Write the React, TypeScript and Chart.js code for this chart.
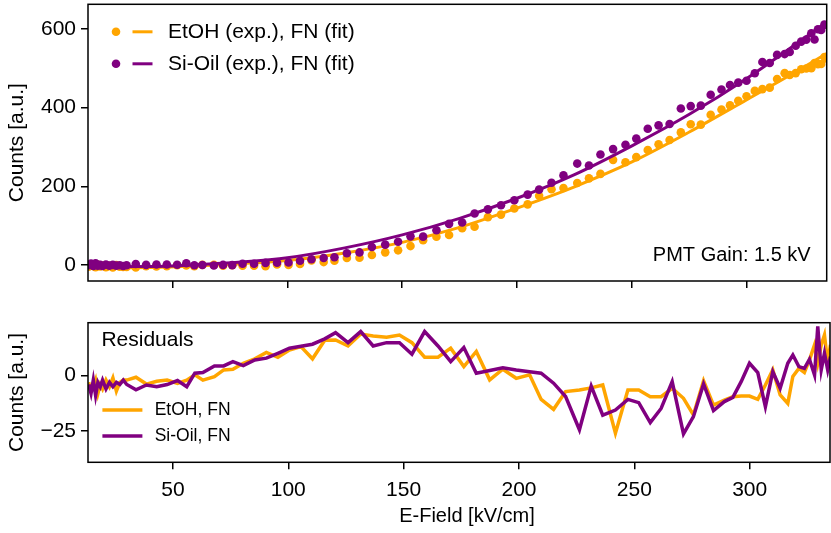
import React, { useEffect, useRef } from 'react';
import { Chart, registerables } from 'chart.js';

Chart.register(...registerables);

const FONT = "'Liberation Sans', Arial, Helvetica, sans-serif";
const ORANGE = '#FFA500';
const PURPLE = '#800080';

// E-field values of the measured points [kV/cm]
const efield = [13.5, 14.5, 15.5, 16.5, 17.5, 18.5, 19.5, 21, 22.5, 24, 25.5, 27, 28.5, 30,
  34, 38.5, 43, 47.5, 52, 56, 59.5, 63,
  68, 72, 76, 80.5, 85.5, 90.5, 95.5, 100.5, 105.5, 110.5,
  115.8, 120.5, 125.9, 131.4, 136.8, 142.6, 148.2, 153.6, 159.1, 164.9,
  170.4, 176.1, 181.5, 187.3, 193, 198.8, 204.6, 209.6, 215, 220.2,
  226.2, 231.3, 236.3, 241.8, 247.2, 251.9, 256.9, 261.6, 266.4, 271.3,
  275.6, 280, 284.3, 289, 292.7, 296.3, 299.9, 303.5, 306.8, 310,
  313.2, 316.5, 318.7, 321.3, 323.7, 325.9, 328.1, 329.5, 331, 332.4,
  333.8, 335];

// measured counts
const etohExp = [-4, 0, -2, -5, 1, -2.8, -0.8, -4.7, -1.6, -5.6, 0.5, -3.5, -4.4, -4.4,
  -5.5, -2.3, -2.9, -2.5, -0.1, -0.8, -2.5, 0.9,
  0.9, -1, -0.1, -1.4, -1.4, -2.3, 1.9, 0.8, 3.1, 12.4,
  8, 11.5, 18.6, 19.1, 25.8, 32.7, 37.8, 48.6, 63.5, 72.3,
  76.6, 94.1, 97.8, 122, 128.4, 143.8, 154.5, 176.4, 192.6, 195.8,
  208.5, 220.4, 231.7, 267.3, 261.4, 274.3, 292.5, 306.8, 317.6, 337,
  357.7, 356.7, 381.8, 394.9, 405.6, 417.1, 428.9, 442.3, 446.8, 450.6,
  472.5, 487.3, 482.5, 487.4, 497.3, 499.1, 500, 513.2, 510.1, 510.5,
  528.2, 524.1];

const siExp = [0, 4, -2, 5, -1, 1, -2, 2, -1, 1, -1, 0, -2, 0,
  3, 1, 2, 2, 1.4, 5, -0.2, 0.6,
  -0.6, 0.8, 0.3, 3.8, 3.9, 5.9, 6.4, 7.1, 11.2, 15.3,
  18.2, 20.1, 30.3, 32.5, 46.2, 52.3, 59.7, 73.3, 72.5, 88.7,
  105, 108.5, 131.2, 141.8, 152.1, 165, 179.2, 191.9, 209.4, 227.9,
  257.9, 253.1, 280.8, 294.6, 305.5, 321.3, 346.3, 354.9, 358.2, 397.5,
  403.7, 404.9, 432.7, 445.7, 457.2, 463.2, 468, 486.9, 515.7, 513,
  533.6, 535.7, 541, 556.8, 567.4, 572.4, 588.7, 572.7, 598.6, 597,
  610.4, 609.4];

// FN fit curves (read at knots)
const fitE = [13, 40, 60, 80, 100, 125, 150, 175, 200, 225, 250, 275, 300, 325, 335];
const etohFit = [-7, -6, -2, 4, 12, 31, 58, 96, 145, 199, 262, 338, 420, 503, 538];
const siFit = [-4, -3.5, 1, 8, 19, 44, 77, 119, 170, 230, 303, 383, 474, 576, 618];

// residuals
const etohRes = [-3, -7, -5, -2, -8, -4, -6, -2, -5, -1, -7, -3, -2, -2,
  -0.7, -3.8, -2.5, -2, -3.5, -2, 0.4, -2,
  -0.5, 2.6, 2.9, 5.6, 7.6, 10.5, 8.3, 11.6, 13.1, 7.6,
  16, 16.1, 13.4, 18.8, 17.9, 17.3, 18.3, 14.9, 8.3, 8.3,
  12.4, 4.1, 10.9, -1.9, 2.9, -1.2, 0.4, -10.7, -15.2, -7.2,
  -6.5, -5.5, -4.2, -26, -6.5, -6.5, -9.5, -9.5, -5.7, -10.2,
  -17.7, -2.3, -13.3, -11, -9.5, -9.2, -9.2, -10.7, -4.2, 2.6,
  -8.7, -12.5, -0.4, 3.3, 1.4, 7.1, 13.9, 5.6, 13.9, 18.4,
  5.6, 13.9];

const siRes = [-4, -8, -2, -9, -3, -5, -2, -6, -3, -5, -3, -4, -2, -4,
  -6.4, -4.2, -5, -4, -2.2, -5, 1.1, 1.4,
  4.4, 4.4, 6.3, 4.5, 7.1, 7.9, 10.1, 12.4, 13.3, 14.2,
  16.6, 19.4, 14.9, 19.9, 13.4, 14.9, 14.9, 9.7, 19.9, 13.4,
  6.3, 12.7, 1.1, 2.3, 3.6, 2.6, 1.8, 1.1, -3.4, -9.4,
  -24.4, -4.7, -17.8, -15.5, -10.7, -12.2, -21.2, -14.8, -2.7, -26.3,
  -18.5, -3.7, -15.8, -11.7, -9.8, -2.7, 5.6, 1.4, -14, 1.8,
  -5.7, 5.6, 9.3, 4.1, 3.3, 7.4, 0.3, 22.2, 2.6, 10.1,
  2.6, 8.6];

const xTicks = [50, 100, 150, 200, 250, 300];
const yTopTicks = [0, 200, 400, 600];
const yResTicks = [-25, 0];
const topLegendLabels = ['EtOH (exp.), FN (fit)', 'Si-Oil (exp.), FN (fit)'];
const resLegendLabels = ['EtOH, FN', 'Si-Oil, FN'];
const legendColors = [ORANGE, PURPLE];
const xTitle = 'E-Field [kV/cm]';
const yTitle = 'Counts [a.u.]';

const X_MIN = 13.2;
const X_MAX = 334.8;
const FS = 21;

const xy = (xs: number[], ys: number[]) => xs.map((x, i) => ({ x, y: ys[i] }));
const fmt = (v: number) => (v < 0 ? '\u2212' + Math.abs(v) : String(v));

const gridOpts = {
  drawOnChartArea: false,
  drawTicks: true,
  tickLength: 7,
  color: '#000',
  lineWidth: 1.5,
};

const noPad = (s: any) => {
  s.paddingTop = 0;
  s.paddingBottom = 0;
  s.paddingLeft = 0;
  s.paddingRight = 0;
};

const topDecor = {
  id: 'topDecor',
  afterDraw(chart: any) {
    const { ctx, chartArea: a } = chart;
    ctx.save();
    ctx.strokeStyle = '#000';
    ctx.lineWidth = 1.5;
    ctx.strokeRect(a.left, a.top, a.right - a.left, a.bottom - a.top);
    ctx.font = `${FS}px ${FONT}`;
    ctx.textBaseline = 'middle';
    topLegendLabels.forEach((lab, i) => {
      const y = a.top + 27.5 + i * 32;
      ctx.fillStyle = legendColors[i];
      ctx.beginPath();
      ctx.arc(a.left + 28, y, 4.3, 0, Math.PI * 2);
      ctx.fill();
      ctx.strokeStyle = legendColors[i];
      ctx.lineWidth = 3;
      ctx.beginPath();
      ctx.moveTo(a.left + 44.5, y);
      ctx.lineTo(a.left + 64.5, y);
      ctx.stroke();
      ctx.fillStyle = '#000';
      ctx.textAlign = 'left';
      ctx.fillText(lab, a.left + 80, y);
    });
    ctx.textAlign = 'right';
    ctx.fillStyle = '#000';
    ctx.font = `20px ${FONT}`;
    ctx.fillText('PMT Gain: 1.5 kV', a.right - 16, a.bottom - 26);
    ctx.restore();
  },
};

const resDecor = {
  id: 'resDecor',
  afterDraw(chart: any) {
    const { ctx, chartArea: a } = chart;
    ctx.save();
    ctx.strokeStyle = '#000';
    ctx.lineWidth = 1.5;
    ctx.strokeRect(a.left, a.top, a.right - a.left, a.bottom - a.top);
    ctx.font = `${FS}px ${FONT}`;
    ctx.textBaseline = 'middle';
    ctx.textAlign = 'left';
    ctx.fillStyle = '#000';
    ctx.fillText('Residuals', a.left + 13.4, a.top + 18);
    ctx.font = `17.5px ${FONT}`;
    resLegendLabels.forEach((lab, i) => {
      const y = a.top + 87.3 + i * 26;
      ctx.strokeStyle = legendColors[i];
      ctx.lineWidth = 3.5;
      ctx.beginPath();
      ctx.moveTo(a.left + 14.4, y);
      ctx.lineTo(a.left + 54.4, y);
      ctx.stroke();
      ctx.fillStyle = '#000';
      ctx.fillText(lab, a.left + 66.7, y);
    });
    // x-axis title
    ctx.font = `20px ${FONT}`;
    ctx.textAlign = 'center';
    ctx.fillStyle = '#000';
    ctx.fillText(xTitle, 467, chart.height - 17);
    ctx.restore();
  },
};

function App() {
  const topRef = useRef<HTMLCanvasElement>(null);
  const resRef = useRef<HTMLCanvasElement>(null);

  useEffect(() => {
    const tickFont = { family: FONT, size: FS };
    const top = new Chart(topRef.current as HTMLCanvasElement, {
      type: 'line',
      data: {
        datasets: [
          {
            label: 'Si-Oil FN (fit)', data: xy(fitE, siFit), borderColor: PURPLE, borderWidth: 3,
            pointRadius: 0, cubicInterpolationMode: 'monotone', fill: false, order: 0,
          },
          {
            label: 'Si-Oil (exp.)', data: xy(efield, siExp), showLine: false, pointRadius: 4.3,
            pointBackgroundColor: PURPLE, pointBorderWidth: 0, backgroundColor: PURPLE, borderColor: PURPLE, order: 1,
          },
          {
            label: 'EtOH FN (fit)', data: xy(fitE, etohFit), borderColor: ORANGE, borderWidth: 3,
            pointRadius: 0, cubicInterpolationMode: 'monotone', fill: false, order: 2,
          },
          {
            label: 'EtOH (exp.)', data: xy(efield, etohExp), showLine: false, pointRadius: 4.3,
            pointBackgroundColor: ORANGE, pointBorderWidth: 0, backgroundColor: ORANGE, borderColor: ORANGE, order: 3,
          },
        ],
      },
      options: {
        responsive: false,
        animation: false,
        devicePixelRatio: 1,
        layout: { padding: { top: 2, right: 1, left: 0, bottom: 0 } },
        plugins: { legend: { display: false }, tooltip: { enabled: false } },
        scales: {
          x: {
            type: 'linear', min: X_MIN, max: X_MAX,
            afterBuildTicks: (s: any) => { s.ticks = xTicks.map((v) => ({ value: v })); },
            afterFit: (s: any) => { s.height = 19; noPad(s); },
            ticks: { display: false },
            grid: gridOpts,
            border: { display: false },
          },
          y: {
            type: 'linear', min: -40, max: 662,
            afterBuildTicks: (s: any) => { s.ticks = yTopTicks.map((v) => ({ value: v })); },
            afterFit: (s: any) => { s.width = 88; noPad(s); },
            ticks: { color: '#000', font: tickFont, padding: 5, callback: (v: any) => fmt(Number(v)) },
            grid: gridOpts,
            border: { display: false },
            title: { display: true, text: yTitle, color: '#000', font: tickFont, padding: { top: 5, bottom: 0 } },
          },
        },
      } as any,
      plugins: [topDecor],
    } as any);

    const res = new Chart(resRef.current as HTMLCanvasElement, {
      type: 'line',
      data: {
        datasets: [
          {
            label: 'Si-Oil, FN', data: xy(efield, siRes), borderColor: PURPLE, borderWidth: 3.5,
            pointRadius: 0, tension: 0, fill: false, order: 0,
          },
          {
            label: 'EtOH, FN', data: xy(efield, etohRes), borderColor: ORANGE, borderWidth: 3.5,
            pointRadius: 0, tension: 0, fill: false, order: 1,
          },
        ],
      },
      options: {
        responsive: false,
        animation: false,
        devicePixelRatio: 1,
        layout: { padding: { top: 22.7, right: 1, left: 0, bottom: 0 } },
        plugins: { legend: { display: false }, tooltip: { enabled: false } },
        scales: {
          x: {
            type: 'linear', min: X_MIN, max: X_MAX,
            afterBuildTicks: (s: any) => { s.ticks = xTicks.map((v) => ({ value: v })); },
            afterFit: (s: any) => { s.height = 70.7; noPad(s); },
            ticks: { color: '#000', font: tickFont, padding: 8, maxRotation: 0, callback: (v: any) => fmt(Number(v)) },
            grid: gridOpts,
            border: { display: false },
          },
          y: {
            type: 'linear', min: -39.1, max: 23.9,
            afterBuildTicks: (s: any) => { s.ticks = yResTicks.map((v) => ({ value: v })); },
            afterFit: (s: any) => { s.width = 88; noPad(s); },
            ticks: { color: '#000', font: tickFont, padding: 5, callback: (v: any) => fmt(Number(v)) },
            grid: gridOpts,
            border: { display: false },
            title: { display: true, text: yTitle, color: '#000', font: tickFont, padding: { top: 5, bottom: 0 } },
          },
        },
      } as any,
      plugins: [resDecor],
    } as any);

    return () => {
      top.destroy();
      res.destroy();
    };
  }, []);

  return (
    <div style={{ position: 'fixed', left: 0, top: 0, width: 831, height: 533, background: '#fff' }}>
      <canvas ref={topRef} width={831} height={300} style={{ position: 'absolute', left: 0, top: 0, display: 'block' }} />
      <canvas ref={resRef} width={831} height={233} style={{ position: 'absolute', left: 0, top: 300, display: 'block' }} />
    </div>
  );
}

export default App;
